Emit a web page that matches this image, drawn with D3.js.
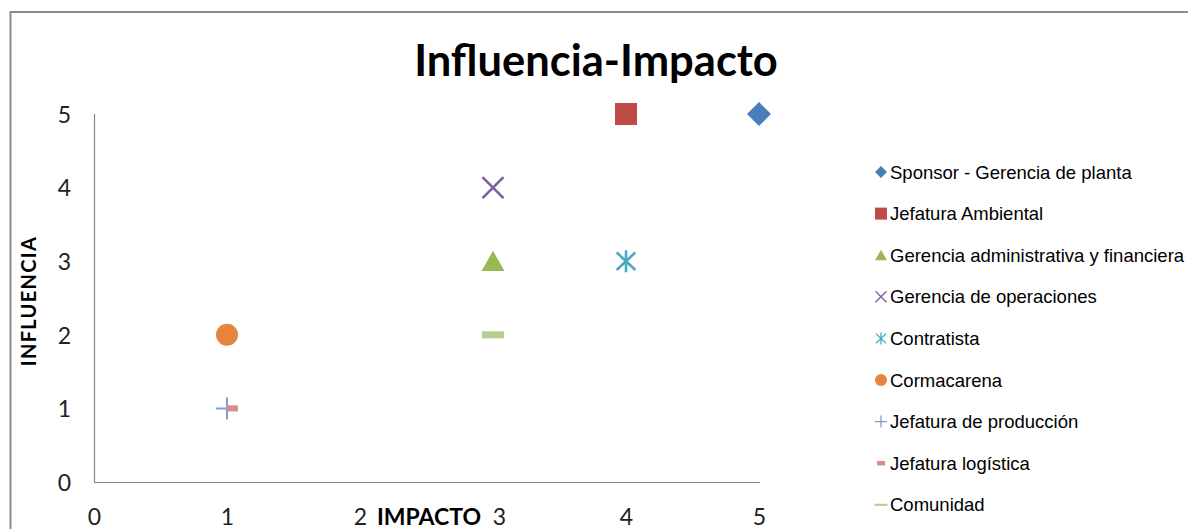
<!DOCTYPE html>
<html><head><meta charset="utf-8">
<script src="https://cdn.jsdelivr.net/npm/d3@7"></script>
<style>html,body{margin:0;padding:0;background:#fff;}</style>
</head><body>
<svg id="c" width="1188" height="529"></svg>
<script>
const seriesNames = ["Sponsor - Gerencia de planta","Jefatura Ambiental","Gerencia administrativa y financiera","Gerencia de operaciones","Contratista","Cormacarena","Jefatura de producción","Jefatura logística","Comunidad"];
const impacto =   [5, 4, 3, 3, 4, 1, 1, 1.04, 3];
const influencia = [5, 5, 3, 4, 3, 2, 1, 1, 2];
const markers = ["diamond","square","triangle","times","asterisk","circle","plus","shortdash","dash"];
const colors = ["#4A7EBB","#BE4B48","#98B954","#7D60A0","#46AAC5","#E8853D","#7C9ED4","#D88D8B","#B3CE8E"];
const xTicks = [0,1,2,3,4,5];
const yTicks = [0,1,2,3,4,5];
const titleText = "Influencia-Impacto";
const xTitle = "IMPACTO";
const yTitle = "INFLUENCIA";

const svg = d3.select("#c");
const W = 1188, H = 529;
// chart border (top & left visible)
svg.append("rect").attr("x",10.5).attr("y",12).attr("width",W+20).attr("height",H+20)
  .attr("fill","none").attr("stroke","#8c8c8c").attr("stroke-width",2);

const x = d3.scaleLinear().domain([0,5]).range([94,759]);
const y = d3.scaleLinear().domain([0,5]).range([482,114]);

const fontC = "Lato, 'Open Sans', sans-serif";
const fontA = "'Liberation Sans', Arial, sans-serif";

svg.append("text").attr("x",596).attr("y",76).attr("text-anchor","middle")
  .attr("font-family",fontC).attr("font-weight","bold").attr("font-size",43.5).attr("fill","#000")
  .text(titleText);

// axes
const gx = svg.append("g").attr("transform",`translate(0,${y(0)})`)
  .call(d3.axisBottom(x).tickValues(xTicks).tickSize(0).tickPadding(0).tickFormat(d3.format("d")));
gx.select(".domain").attr("stroke","#868686").attr("stroke-width",1.2).attr("d",`M${x(0)},0.5H${x(5)+1}`);
gx.selectAll("text").attr("font-family",fontC).attr("font-size",23).attr("fill","#222").attr("dy",null).attr("y",43)
  .attr("dx", d => d === 3 ? 6 : 0);

const gy = svg.append("g").attr("transform",`translate(${x(0)},0)`)
  .call(d3.axisLeft(y).tickValues(yTicks).tickSize(0).tickPadding(0).tickFormat(d3.format("d")));
gy.select(".domain").attr("stroke","#868686").attr("stroke-width",1.2).attr("d",`M0.5,${y(5)}V${y(0)}`);
gy.selectAll("text").attr("font-family",fontC).attr("font-size",23).attr("fill","#222").attr("x",-23).attr("dy","0.36em");

// axis titles
svg.append("text").attr("font-family",fontC).attr("font-weight","bold").attr("font-size",23)
  .attr("text-anchor","middle").attr("x",429).attr("y",525).attr("fill","#000").text(xTitle);
svg.append("text").attr("font-family",fontC).attr("font-weight","bold").attr("font-size",20)
  .attr("letter-spacing",1.3)
  .attr("text-anchor","middle").attr("transform",`translate(36,${y(2.5)+3}) rotate(-90)`).attr("fill","#000").text(yTitle);

function markerPath(type, s) {
  const p = d3.path();
  const h = s/2;
  switch(type){
    case "diamond": p.moveTo(0,-h); p.lineTo(h,0); p.lineTo(0,h); p.lineTo(-h,0); p.closePath(); break;
    case "square": p.rect(-h,-h,s,s); break;
    case "triangle": p.moveTo(0,-h*0.9); p.lineTo(h,h*0.85); p.lineTo(-h,h*0.85); p.closePath(); break;
    case "circle": p.arc(0,0,h,0,2*Math.PI); break;
    case "times": p.moveTo(-h,-h); p.lineTo(h,h); p.moveTo(h,-h); p.lineTo(-h,h); break;
    case "plus": p.moveTo(-h,0); p.lineTo(h,0); p.moveTo(0,-h); p.lineTo(0,h); break;
    case "asterisk": p.moveTo(0,-h); p.lineTo(0,h); p.moveTo(-h*0.85,-h*0.8); p.lineTo(h*0.85,h*0.8); p.moveTo(h*0.85,-h*0.8); p.lineTo(-h*0.85,h*0.8); break;
    case "dash": p.rect(-h,-s*0.16,s,s*0.32); break;
    case "shortdash": p.rect(-h*0.5,-s*0.14,s*0.5,s*0.28); break;
  }
  return p.toString();
}
const strokeTypes = new Set(["times","plus","asterisk"]);
function styleMarker(sel, type, color, sw){
  if (strokeTypes.has(type)) sel.attr("fill","none").attr("stroke",color).attr("stroke-width",sw);
  else sel.attr("fill",color).attr("stroke","none");
}
const sizes = {diamond:24, square:22, triangle:23, circle:22, times:21, plus:22, asterisk:22, dash:22, shortdash:22};

const data = seriesNames.map((n,i)=>({name:n, x:impacto[i], y:influencia[i], m:markers[i], c:colors[i]}));
const pts = svg.append("g");
data.forEach(d=>{
  const el = pts.append("path").attr("transform",`translate(${x(d.x)},${y(d.y)})`).attr("d",markerPath(d.m,sizes[d.m]));
  styleMarker(el,d.m,d.c,d.m==="plus"?2:2.6);
});

// legend
const lg = svg.append("g");
const ly0 = 172, lstep = 41.6;
const lsizes = {diamond:12, square:12, triangle:12, circle:12, times:11, plus:12, asterisk:12, dash:13, shortdash:16};
data.forEach((d,i)=>{
  const cy = ly0 + i*lstep;
  const el = lg.append("path").attr("transform",`translate(881,${cy})`).attr("d",markerPath(d.m,lsizes[d.m]));
  styleMarker(el,d.m,d.c,d.m==="dash"?0:1.3);
  if (d.m==="dash") el.attr("d",markerPath("dash",13)).attr("transform",`translate(881,${cy}) scale(1,0.5)`);
  lg.append("text").attr("x",890).attr("y",cy).attr("dy","0.36em").attr("font-family",fontA)
    .attr("font-size",18.5).attr("fill","#000").text(d.name);
});
</script>
</body></html>
